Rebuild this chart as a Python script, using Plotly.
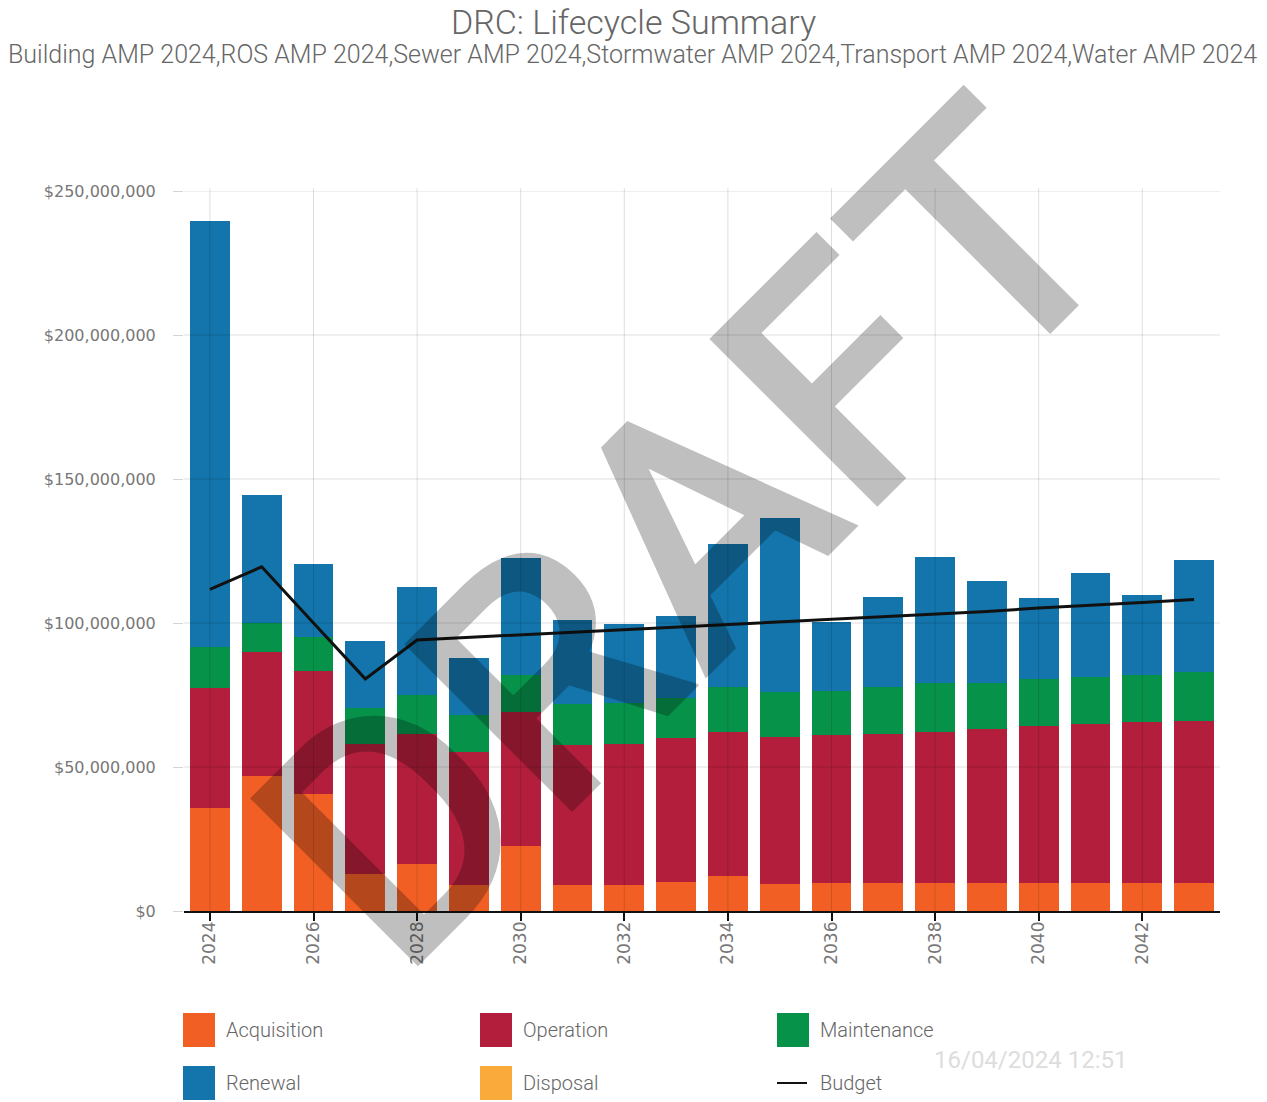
import plotly.graph_objects as go

# Lifecycle cost components by year (values in $ millions)
years = list(range(2024, 2044))
acquisition = [35.7, 47.0, 40.6, 13.0, 16.3, 9.0, 22.4, 9.0, 9.0, 10.2,
               12.2, 9.4, 9.6, 9.6, 9.6, 9.6, 9.6, 9.6, 9.6, 9.6]
operation = [41.6, 43.0, 42.7, 45.1, 45.3, 46.3, 46.6, 48.5, 49.1, 50.0,
             50.1, 50.9, 51.5, 51.8, 52.7, 53.5, 54.6, 55.3, 56.1, 56.5]
maintenance = [14.5, 9.9, 11.9, 12.5, 13.4, 12.9, 13.0, 14.5, 14.1, 13.6,
               15.4, 15.7, 15.4, 16.5, 16.8, 16.2, 16.2, 16.5, 16.2, 17.0]
renewal = [147.9, 44.5, 25.3, 23.2, 37.6, 19.6, 40.5, 29.0, 27.6, 28.6,
           49.6, 60.6, 24.0, 31.2, 43.9, 35.3, 28.2, 35.8, 27.8, 38.8]
disposal = [0.0] * 20
budget = [111.7, 119.5, 100.0, 80.6, 94.1, 95.0, 95.8, 96.8, 97.6, 98.5,
          99.3, 100.2, 101.2, 102.2, 103.1, 104.0, 105.2, 106.1, 107.1, 108.2]

MILLION = 1_000_000
y_ticks = [0, 50, 100, 150, 200, 250]
y_tick_labels = ["$0", "$50,000,000", "$100,000,000", "$150,000,000",
                 "$200,000,000", "$250,000,000"]
x_ticks = [2024, 2026, 2028, 2030, 2032, 2034, 2036, 2038, 2040, 2042]

series = [
    ("Acquisition", acquisition, "#F15F24"),
    ("Operation", operation, "#B21E3B"),
    ("Maintenance", maintenance, "#07924A"),
    ("Renewal", renewal, "#1375AB"),
    ("Disposal", disposal, "#F9AA3A"),
]
budget_color = "#111111"

W, H = 1267, 1102
ML, MR, MT, MB = 184, 47, 191, 191
PW, PH = W - ML - MR, H - MT - MB


def px(xp):
    return (xp - ML) / PW


def py(yp):
    return (H - MB - yp) / PH


fig = go.Figure()
for name, vals, color in series:
    fig.add_trace(go.Bar(
        x=years, y=[v * MILLION for v in vals], name=name,
        marker=dict(color=color, line=dict(width=0)), width=0.77,
        showlegend=False,
    ))
fig.add_trace(go.Scatter(
    x=years, y=[v * MILLION for v in budget], name="Budget", mode="lines",
    line=dict(color=budget_color, width=3), showlegend=False,
))

shapes = []
grid_color = "rgba(0,0,0,0.13)"
for t in y_ticks[1:]:
    shapes.append(dict(type="line", xref="paper", yref="y", x0=0, x1=1,
                       y0=t * MILLION, y1=t * MILLION, layer="above",
                       line=dict(color=grid_color, width=1)))
for t in x_ticks:
    shapes.append(dict(type="line", xref="x", yref="paper", x0=t, x1=t,
                       y0=0, y1=1.004, layer="above",
                       line=dict(color=grid_color, width=1)))

annotations = []
# legend: three columns, two rows
legend_items = [
    ("Acquisition", series[0][2], "box", 183, 1030),
    ("Operation", series[1][2], "box", 480, 1030),
    ("Maintenance", series[2][2], "box", 777, 1030),
    ("Renewal", series[3][2], "box", 183, 1083),
    ("Disposal", series[4][2], "box", 480, 1083),
    ("Budget", budget_color, "line", 777, 1083),
]
for label, color, kind, lx, ly in legend_items:
    if kind == "box":
        shapes.append(dict(type="rect", xref="paper", yref="paper",
                           x0=px(lx), x1=px(lx + 32), y0=py(ly - 17), y1=py(ly + 17),
                           fillcolor=color, line=dict(width=0)))
    else:
        shapes.append(dict(type="line", xref="paper", yref="paper",
                           x0=px(lx), x1=px(lx + 30), y0=py(ly), y1=py(ly),
                           line=dict(color=color, width=2)))
    annotations.append(dict(text=label, xref="paper", yref="paper",
                            x=px(lx + 41), y=py(ly), xanchor="left", yanchor="middle",
                            showarrow=False,
                            font=dict(family="Roboto", size=20, color="#666666",
                                      weight=300)))

annotations.append(dict(
    text="Building AMP 2024,ROS AMP 2024,Sewer AMP 2024,Stormwater AMP 2024,"
         "Transport AMP 2024,Water AMP 2024",
    xref="paper", yref="paper", x=px(632), y=py(54), xanchor="center",
    yanchor="middle", showarrow=False,
    font=dict(family="Roboto", size=25, color="#666666", weight=300)))
annotations.append(dict(
    text="16/04/2024 12:51", xref="paper", yref="paper", x=px(1030), y=py(1060),
    xanchor="center", yanchor="middle", showarrow=False,
    font=dict(family="Roboto", size=24, color="#DDDDDD")))
annotations.append(dict(
    text="DRAFT", xref="paper", yref="paper", x=px(688), y=py(535),
    xanchor="center", yanchor="middle", showarrow=False, textangle=-45,
    font=dict(family="Roboto", size=334, color="rgba(0,0,0,0.25)", weight=500)))

fig.update_layout(
    width=W, height=H,
    margin=dict(l=ML, r=MR, t=MT, b=MB, autoexpand=False),
    paper_bgcolor="white", plot_bgcolor="white",
    barmode="stack",
    title=dict(text="DRC: Lifecycle Summary", x=0.5, xanchor="center",
               xref="container", y=1 - 22 / H, yanchor="middle", yref="container",
               font=dict(family="Roboto", size=34, color="#666666", weight=300)),
    shapes=shapes, annotations=annotations,
    showlegend=False,
)
fig.update_xaxes(
    range=[2023.5, 2043.5], tickvals=x_ticks, ticktext=[str(t) for t in x_ticks],
    tickangle=-90, showgrid=False, zeroline=False,
    showline=True, linecolor="#111111", linewidth=1.5,
    ticks="outside", ticklen=8, tickcolor="#111111", tickwidth=1.5,
    ticklabelstandoff=-6,
    tickfont=dict(family="DejaVu Sans", size=17, color="#777777"),
)
fig.update_yaxes(
    range=[0, 250 * MILLION], tickvals=[t * MILLION for t in y_ticks],
    ticktext=y_tick_labels, showgrid=False, zeroline=False,
    showline=False, ticks="outside", ticklen=10, tickcolor="#d5d5d5",
    ticklabelstandoff=14,
    tickfont=dict(family="DejaVu Sans", size=16, color="#777777"),
)

fig.write_html("out.html")
